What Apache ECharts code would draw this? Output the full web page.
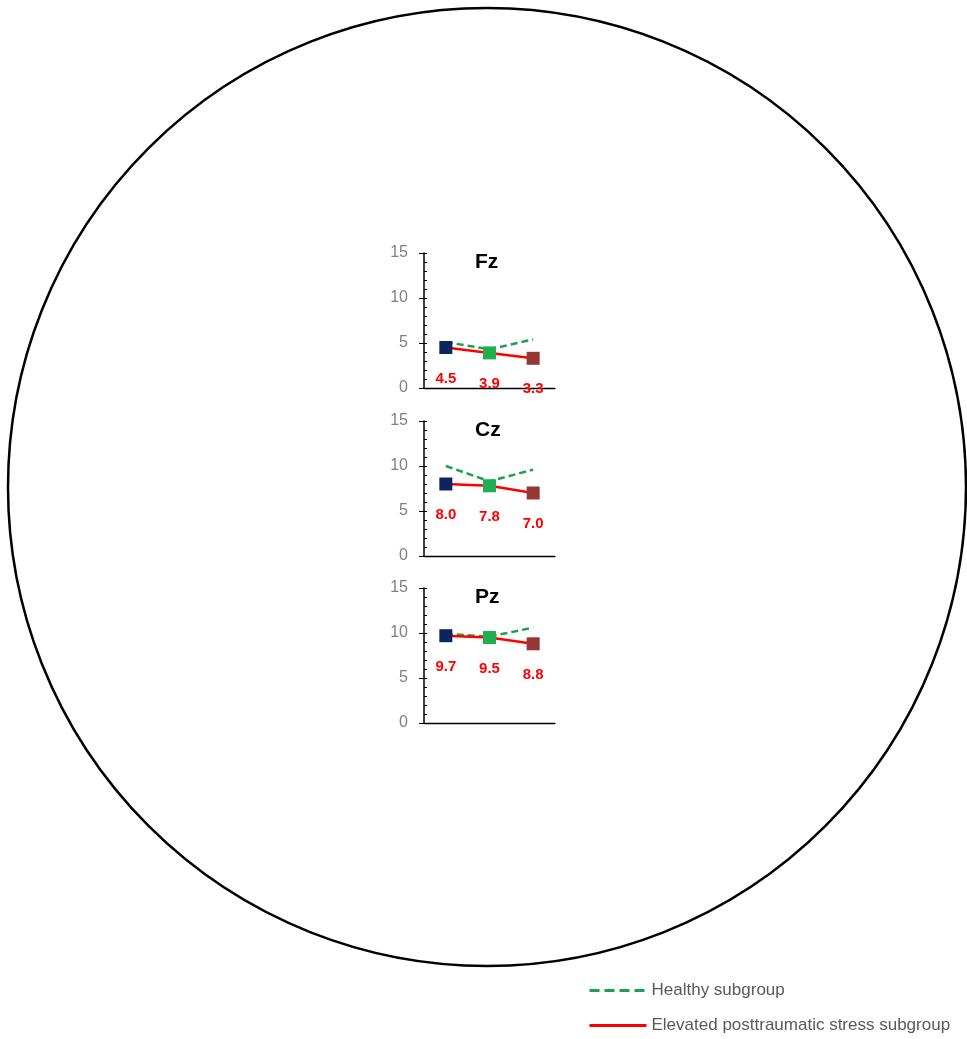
<!DOCTYPE html>
<html><head><meta charset="utf-8">
<script src="https://cdn.jsdelivr.net/npm/echarts@6/dist/echarts.min.js"></script>
<style>html,body{margin:0;padding:0;background:#fff}#c{width:967px;height:1039px}</style>
</head><body><div id="c"></div>
<script>
const categories = ['T1','T2','T3'];
const panels = ['Fz','Cz','Pz'];
const healthy = [[5.1,4.3,5.4],[10.0,8.3,9.6],[9.9,9.6,10.6]];
const elevated = [[4.5,3.9,3.3],[8.0,7.8,7.0],[9.7,9.5,8.8]];
const yTicks = [0,5,10,15];
const markerColors = ['#0c2461','#1fae52','#953735'];
const legendNames = ['Healthy subgroup','Elevated posttraumatic stress subgroup'];

const chart = echarts.init(document.getElementById('c'));
const tops = [253, 421, 588];
const grids = [], xAxes = [], yAxes = [], series = [], titles = [];
panels.forEach((p,i)=>{
  grids.push({left:424, width:131, top:tops[i], height:135});
  xAxes.push({type:'category', gridIndex:i, data:categories, boundaryGap:true,
    axisLine:{lineStyle:{color:'#000',width:1.3}}, axisTick:{show:false}, axisLabel:{show:false}});
  yAxes.push({type:'value', gridIndex:i, position:'left', min:0, max:15, interval:5,
    axisLine:{show:true,lineStyle:{color:'#000',width:1.5}},
    axisTick:{show:true,length:5,lineStyle:{color:'#000'}},
    splitLine:{show:false},
    axisLabel:{color:'#808080',fontSize:16,fontFamily:'Liberation Sans, Arial',margin:16,
      formatter:v=>yTicks.includes(v)?String(v):''}});
  yAxes.push({type:'value', gridIndex:i, position:'left', offset:0, min:0, max:15, interval:5,
    axisLine:{show:false},
    axisTick:{show:true,inside:true,length:3,lineStyle:{color:'#000'}},
    minorTick:{show:true,splitNumber:5,length:3,lineStyle:{color:'#000'}},
    splitLine:{show:false}, axisLabel:{show:false}});
  titles.push({text:p, left:470, top:tops[i]-6, textStyle:{fontSize:21,fontWeight:'bold',color:'#000',fontFamily:'Liberation Sans, Arial'}});
  series.push({name:legendNames[0], type:'line', xAxisIndex:i, yAxisIndex:2*i, data:healthy[i],
    symbol:'none', lineStyle:{color:'#1fa050',width:2.5,type:[7,4]}, itemStyle:{color:'#1fa050'}, z:2});
  series.push({name:legendNames[1], type:'line', xAxisIndex:i, yAxisIndex:2*i, data:elevated[i],
    symbol:'none', lineStyle:{color:'#ff0000',width:2.5}, itemStyle:{color:'#ff0000'}, z:3});
  series.push({name:'markers'+i, type:'scatter', xAxisIndex:i, yAxisIndex:2*i, symbol:'rect', symbolSize:13,
    data:elevated[i].map((v,k)=>({value:v,itemStyle:{color:markerColors[k],opacity:1}})), z:4,
    itemStyle:{opacity:1},
    label:{show:true,position:'bottom',distance:17,color:'#ff0000',fontWeight:'bold',fontSize:15,
      fontFamily:'Liberation Sans, Arial',formatter:d=>d.value.toFixed(1)}});
});

chart.setOption({
  animation:false,
  title:titles,
  grid:grids, xAxis:xAxes, yAxis:yAxes, series:series,
  legend:{data:[{name:legendNames[0], lineStyle:{type:[10,5],width:3}}, {name:legendNames[1], lineStyle:{width:3}}],
    orient:'vertical', left:588, top:982, padding:0, itemGap:18, itemWidth:57, itemHeight:20,
    itemStyle:{opacity:0},
    textStyle:{color:'#595959',fontSize:17,fontFamily:'Liberation Sans, Arial'}},
  graphic:[{type:'circle', shape:{cx:487,cy:487,r:479}, style:{fill:'none',stroke:'#000',lineWidth:2.5}, silent:true}]
});
</script></body></html>
